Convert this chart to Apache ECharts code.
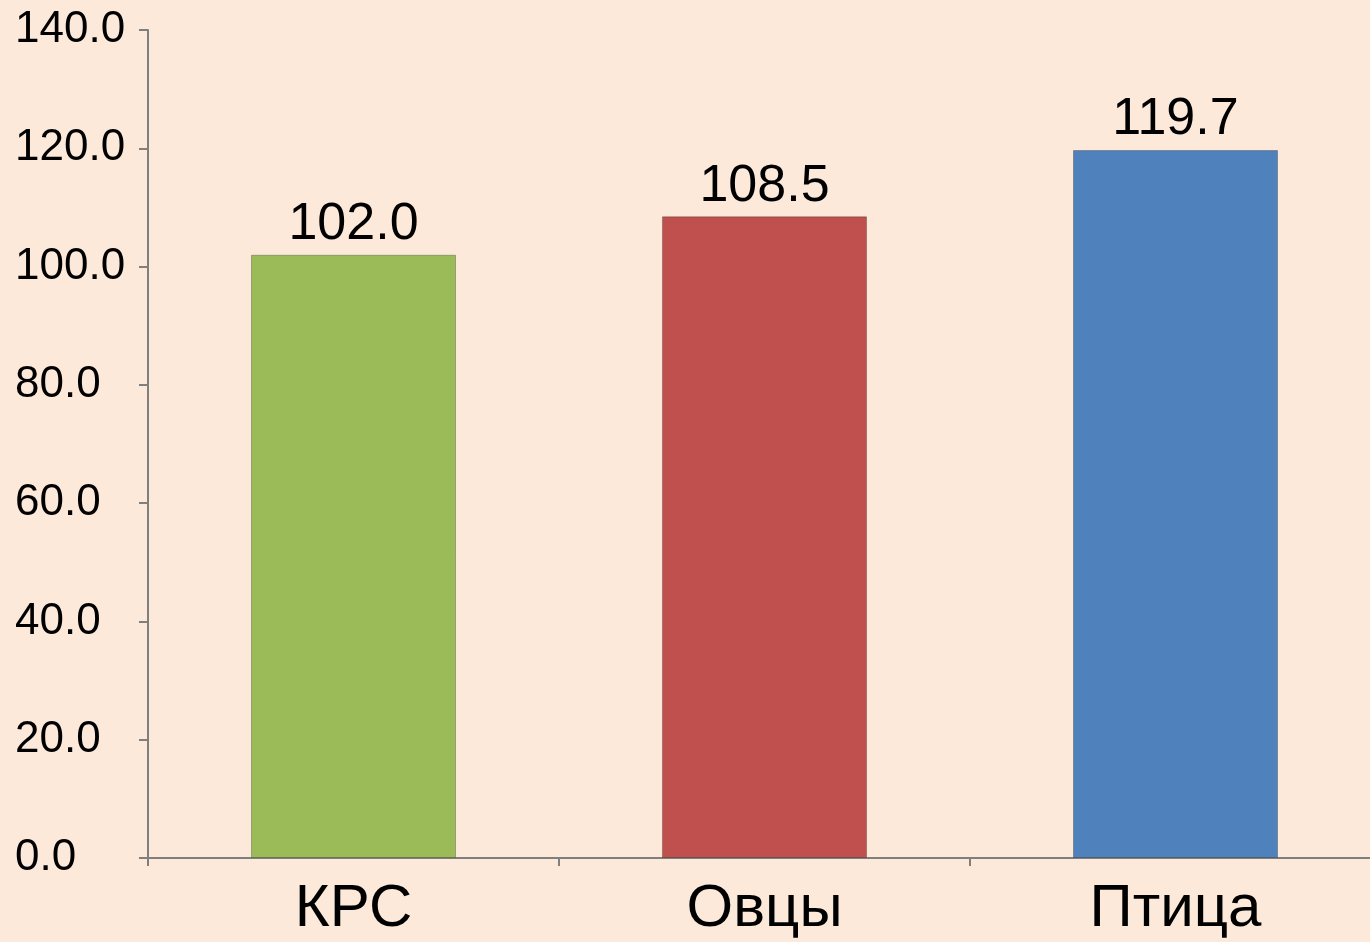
<!DOCTYPE html>
<html>
<head>
<meta charset="utf-8">
<script src="https://cdn.jsdelivr.net/npm/echarts@6/dist/echarts.min.js"></script>
<style>
html,body{margin:0;padding:0;background:#fde9da;overflow:hidden;}
/* ось X уходит за правый край картинки */
#chart{width:1381px;height:942px;}
</style>
</head>
<body>
<div id="chart"></div>
<script>
// данные
var categories = ['КРС', 'Овцы', 'Птица'];
var values = [102.0, 108.5, 119.7];
var barColors = ['#9bbb59', '#c0504d', '#4f81bd'];

var chart = echarts.init(document.getElementById('chart'));
var option = {
	backgroundColor: '#fde9da',
	animation: false,
	grid: {
		left: 148,
		right: 0,
		top: 30,
		bottom: 84
	},
	xAxis: {
		type: 'category',
		data: categories,
		axisLine: { lineStyle: { color: '#7f7f7f', width: 2 } },
		axisTick: { show: true, length: 8, lineStyle: { color: '#7f7f7f', width: 2 } },
		axisLabel: {
			color: '#000',
			fontFamily: 'Liberation Sans',
			fontSize: 60,
			margin: 21
		}
	},
	yAxis: {
		type: 'value',
		min: 0,
		max: 140,
		interval: 20,
		axisLine: { show: true, lineStyle: { color: '#7f7f7f', width: 2 } },
		axisTick: { show: true, length: 9, lineStyle: { color: '#7f7f7f', width: 2 } },
		splitLine: { show: false },
		axisLabel: {
			color: '#000',
			fontFamily: 'Liberation Sans',
			fontSize: 44,
			margin: 133,
			align: 'left',
			formatter: function (v) { return v.toFixed(1); }
		}
	},
	series: [{
		type: 'bar',
		barWidth: 205,
		data: values.map(function (v, i) {
			return {
				value: v,
				itemStyle: { color: barColors[i] }
			};
		}),
		itemStyle: {
			borderColor: 'rgba(0,0,0,0.25)',
			borderWidth: 1
		},
		label: {
			show: true,
			position: 'top',
			distance: 4,
			color: '#000',
			fontFamily: 'Liberation Sans',
			fontSize: 52,
			formatter: function (p) { return p.value.toFixed(1); }
		}
	}]
};
chart.setOption(option);
</script>
</body>
</html>
